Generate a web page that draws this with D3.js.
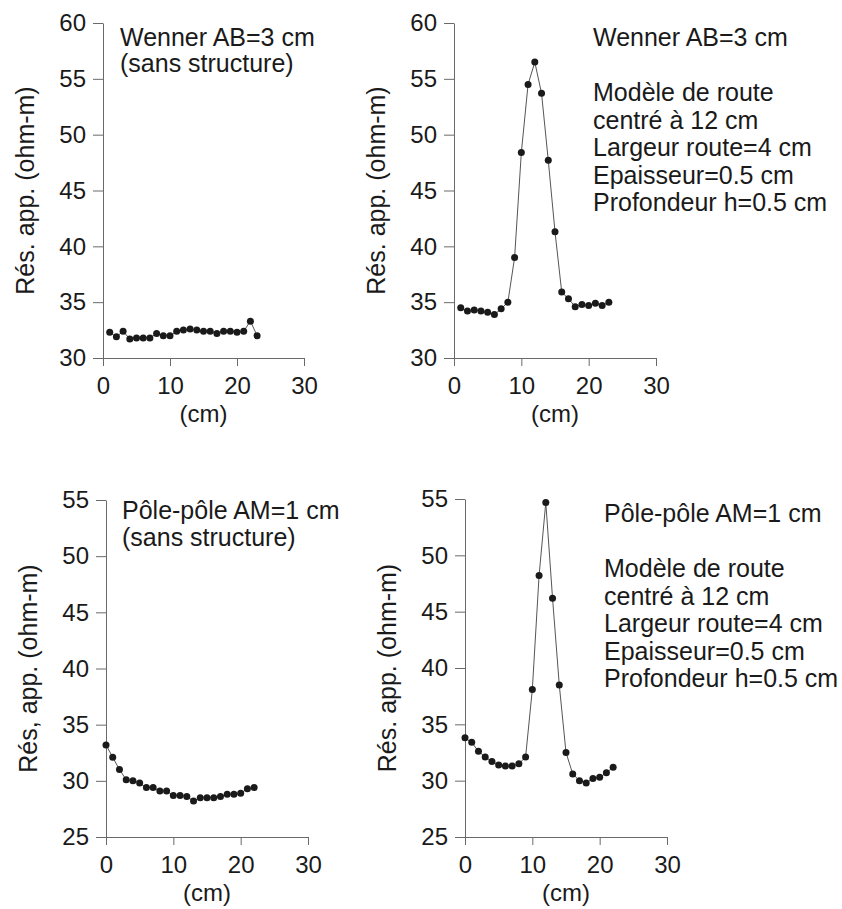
<!DOCTYPE html>
<html>
<head>
<meta charset="utf-8">
<script src="https://cdn.jsdelivr.net/npm/d3@7"></script>
<style>
  html, body { margin: 0; padding: 0; background: #fff; }
  svg { display: block; }
  text { font-family: "Liberation Sans", Arial, sans-serif; fill: #1a1a1a; }
</style>
</head>
<body>
<svg id="chart" width="842" height="909"></svg>
<script>
// ---- Data ----
const xWennerSans = [1,2,3,4,5,6,7,8,9,10,11,12,13,14,15,16,17,18,19,20,21,22,23];
const resWennerSans = [32.3,31.9,32.4,31.7,31.8,31.8,31.8,32.2,32.0,32.0,32.4,32.5,32.6,32.5,32.4,32.4,32.2,32.4,32.4,32.3,32.4,33.3,32.0];

const xWennerRoute = [1,2,3,4,5,6,7,8,9,10,11,12,13,14,15,16,17,18,19,20,21,22,23];
const resWennerRoute = [34.5,34.2,34.3,34.2,34.1,33.9,34.4,35.0,39.0,48.4,54.5,56.5,53.7,47.7,41.3,35.9,35.3,34.6,34.8,34.7,34.9,34.7,35.0];

const xPoleSans = [0,1,2,3,4,5,6,7,8,9,10,11,12,13,14,15,16,17,18,19,20,21,22];
const resPoleSans = [33.2,32.1,31.0,30.1,30.0,29.8,29.4,29.4,29.1,29.1,28.7,28.7,28.6,28.2,28.5,28.5,28.5,28.6,28.8,28.8,28.9,29.3,29.4];

const xPoleRoute = [0,1,2,3,4,5,6,7,8,9,10,11,12,13,14,15,16,17,18,19,20,21,22];
const resPoleRoute = [33.8,33.4,32.6,32.1,31.7,31.4,31.3,31.3,31.5,32.1,38.1,48.2,54.7,46.2,38.5,32.5,30.6,30.0,29.8,30.2,30.3,30.7,31.2];

const xTicks = [0,10,20,30];
const yTicksTop = [30,35,40,45,50,55,60];
const yTicksBottom = [25,30,35,40,45,50,55];

const yLabelTop = "Rés. app. (ohm-m)";
const yLabelBottomLeft = "Rés, app. (ohm-m)";
const yLabelBottomRight = "Rés. app. (ohm-m)";
const xLabel = "(cm)";

const notesWennerSans = ["Wenner AB=3 cm", "(sans structure)"];
const notesWennerRoute = ["Wenner AB=3 cm", "", "Modèle de route", "centré à 12 cm", "Largeur route=4 cm", "Epaisseur=0.5 cm", "Profondeur h=0.5 cm"];
const notesPoleSans = ["Pôle-pôle AM=1 cm", "(sans structure)"];
const notesPoleRoute = ["Pôle-pôle AM=1 cm", "", "Modèle de route", "centré à 12 cm", "Largeur route=4 cm", "Epaisseur=0.5 cm", "Profondeur h=0.5 cm"];

// ---- Layout ----
const panels = [
  { xs: xWennerSans, ys: resWennerSans, yDom: [30, 60], yTicks: yTicksTop, yLabel: yLabelTop,
    x0: 103, x1: 304, yT: 23, yB: 358, labX: 25, notes: notesWennerSans, nx: 120, ny: 46, lh: 26 },
  { xs: xWennerRoute, ys: resWennerRoute, yDom: [30, 60], yTicks: yTicksTop, yLabel: yLabelTop,
    x0: 454, x1: 656, yT: 23, yB: 358, labX: 376, notes: notesWennerRoute, nx: 593, ny: 46, lh: 27.5 },
  { xs: xPoleSans, ys: resPoleSans, yDom: [25, 55], yTicks: yTicksBottom, yLabel: yLabelBottomLeft,
    x0: 106, x1: 308, yT: 500, yB: 837, labX: 28, notes: notesPoleSans, nx: 122, ny: 519, lh: 27 },
  { xs: xPoleRoute, ys: resPoleRoute, yDom: [25, 55], yTicks: yTicksBottom, yLabel: yLabelBottomRight,
    x0: 465, x1: 667, yT: 499, yB: 837, labX: 387, notes: notesPoleRoute, nx: 604, ny: 522, lh: 27.5 }
];

const svg = d3.select("#chart");

panels.forEach(p => {
  const x = d3.scaleLinear().domain([0, 30]).range([p.x0, p.x1]);
  const y = d3.scaleLinear().domain(p.yDom).range([p.yB, p.yT]);
  const g = svg.append("g");

  const yAxis = d3.axisLeft(y).tickValues(p.yTicks).tickSize(10).tickSizeOuter(0).tickPadding(7).tickFormat(d3.format("d"));
  const gy = g.append("g").attr("transform", `translate(${p.x0},0)`).call(yAxis);
  const xAxis = d3.axisBottom(x).tickValues(xTicks).tickSize(8).tickSizeOuter(0).tickPadding(11).tickFormat(d3.format("d"));
  const gx = g.append("g").attr("transform", `translate(0,${p.yB})`).call(xAxis);

  [gy, gx].forEach(ax => {
    ax.selectAll("path.domain").attr("stroke", "#6a6a6a").attr("stroke-width", 1);
    ax.selectAll(".tick line").attr("stroke", "#6a6a6a").attr("stroke-width", 1);
    ax.selectAll(".tick text").attr("font-size", 24).attr("font-family", "Liberation Sans, Arial, sans-serif").attr("fill", "#1a1a1a");
  });

  g.append("text")
    .attr("transform", `translate(${p.labX},${(p.yT + p.yB) / 2}) rotate(-90)`)
    .attr("text-anchor", "middle")
    .attr("dominant-baseline", "central")
    .attr("font-size", 25)
    .text(p.yLabel);

  g.append("text")
    .attr("x", (p.x0 + p.x1) / 2)
    .attr("y", p.yB + 64)
    .attr("text-anchor", "middle")
    .attr("font-size", 24)
    .text(xLabel);

  const pts = p.xs.map((v, i) => [v, p.ys[i]]);
  g.append("path")
    .datum(pts)
    .attr("fill", "none")
    .attr("stroke", "#555")
    .attr("stroke-width", 1)
    .attr("d", d3.line().x(d => x(d[0])).y(d => y(d[1])));

  g.selectAll("circle.pt")
    .data(pts)
    .join("circle")
    .attr("class", "pt")
    .attr("cx", d => x(d[0]))
    .attr("cy", d => y(d[1]))
    .attr("r", 3.5)
    .attr("fill", "#1a1a1a");

  const t = g.append("text").attr("font-size", 25);
  p.notes.forEach((s, i) => {
    if (!s) return;
    t.append("tspan").attr("x", p.nx).attr("y", p.ny + i * p.lh).text(s);
  });
});
</script>
</body>
</html>
